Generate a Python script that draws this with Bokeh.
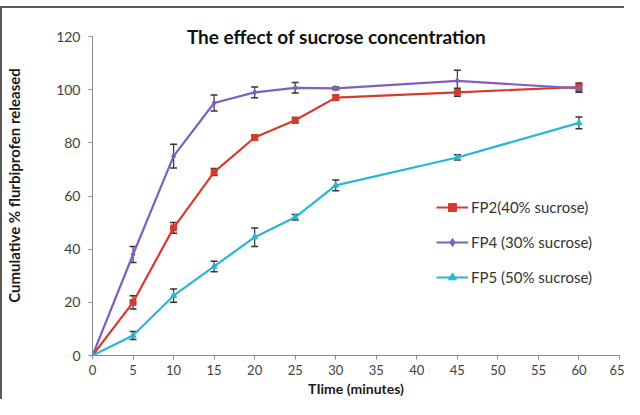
from bokeh.plotting import figure
from bokeh.models import (Range1d, ColumnDataSource, Whisker, TeeHead, Label, Legend, LegendItem,
                          FixedTicker, InlineStyleSheet)
from bokeh.embed import file_html
from bokeh.resources import INLINE

time = [0, 5, 10, 15, 20, 25, 30, 45, 60]
fp2 = [0, 20, 48, 69, 82, 88.5, 97, 99, 101]
fp2_err = [0, 2.5, 2.0, 1.3, 1.0, 1.0, 1.0, 1.5, 1.5]
fp4 = [0, 38, 75, 95, 99, 100.7, 100.5, 103.3, 100.5]
fp4_err = [0, 3.0, 4.5, 3.0, 2.0, 2.0, 0.5, 4.0, 1.5]
fp5 = [0, 7.5, 22.5, 33.5, 44.5, 52, 64, 74.5, 87.5]
fp5_err = [0, 1.5, 2.5, 2.0, 3.5, 1.0, 2.0, 1.0, 2.2]

labels = ["FP2(40% sucrose)", "FP4 (30% sucrose)", "FP5 (50% sucrose)"]
colors = ["#D63A2E", "#7F5FC0", "#29B5D6"]
markers = ["square", "diamond", "triangle"]
x_ticks = [0, 5, 10, 15, 20, 25, 30, 35, 40, 45, 50, 55, 60, 65]
y_ticks = [0, 20, 40, 60, 80, 100, 120]

FONT = "Lato"

p = figure(width=624, height=399, output_backend="svg", toolbar_location=None,
           x_range=Range1d(0, 65), y_range=Range1d(0, 127.9),
           min_border_left=92, min_border_right=5, min_border_top=15, min_border_bottom=44)
p.stylesheets = [InlineStyleSheet(css=(
    ":host { background: "
    "linear-gradient(#5a5a5a, #5a5a5a) 0px 6px / 100% 2px no-repeat, "
    "linear-gradient(#5a5a5a, #5a5a5a) 0px 6px / 2px 100% no-repeat, white; }"))]
p.outline_line_color = None
p.xgrid.visible = False
p.ygrid.visible = False
p.background_fill_color = "white"
p.border_fill_color = None

for ax, ticks in ((p.xaxis[0], x_ticks), (p.yaxis[0], y_ticks)):
    ax.ticker = FixedTicker(ticks=ticks)
    ax.axis_line_color = "#8a8a8a"
    ax.major_tick_line_color = "#8a8a8a"
    ax.major_tick_out = 4
    ax.major_tick_in = 0
    ax.minor_tick_line_color = None
    ax.major_label_text_font = FONT
    ax.major_label_text_font_size = "14px"
    ax.major_label_text_color = "#404040"
    ax.axis_label_text_font = FONT
    ax.axis_label_text_font_style = "bold"
    ax.axis_label_text_font_size = "15px"
    ax.axis_label_text_color = "#1a1a1a"

p.xaxis.major_label_text_font_size = "13px"
p.xaxis.axis_label_text_font_size = "14px"
p.yaxis.bounds = (0, 120)
p.xaxis.axis_label = "TIime (minutes)"
p.yaxis.axis_label = "Cumulative % flurbiprofen released"
p.xaxis.major_label_standoff = 5
p.yaxis.major_label_standoff = 8
p.xaxis.axis_label_standoff = 2
p.yaxis.axis_label_standoff = 30

items = []
for ys, errs, lab, col, mk in zip((fp2, fp4, fp5), (fp2_err, fp4_err, fp5_err), labels, colors, markers):
    src = ColumnDataSource(dict(x=time, y=ys,
                                lo=[a - b for a, b in zip(ys, errs)],
                                hi=[a + b for a, b in zip(ys, errs)]))
    w = Whisker(base="x", lower="lo", upper="hi", source=src, line_color="#333333", line_width=1.2,
                upper_head=TeeHead(size=7, line_color="#333333", line_width=1.5),
                lower_head=TeeHead(size=7, line_color="#333333", line_width=1.5))
    p.add_layout(w)
    r1 = p.line("x", "y", source=src, line_color=col, line_width=2.2)
    r2 = p.scatter("x", "y", source=src, marker=mk, size=6, fill_color=col, line_color=col)
    items.append(LegendItem(label=lab, renderers=[r1, r2]))

legend = Legend(items=items, location=(344, 68), orientation="vertical",
                glyph_width=32, glyph_height=20, spacing=15, label_standoff=3,
                padding=0, margin=0, border_line_color=None, background_fill_alpha=0,
                label_text_font=FONT, label_text_font_size="15px", label_text_color="#333333")
p.add_layout(legend, "center")

title = Label(x=30.1, y=120, text="The effect of sucrose concentration", text_align="center",
              text_baseline="middle", y_offset=0, text_font=FONT, text_font_style="bold",
              text_font_size="19px", text_color="#111111")
p.add_layout(title)

open("out.html", "w").write(file_html(p, INLINE))
